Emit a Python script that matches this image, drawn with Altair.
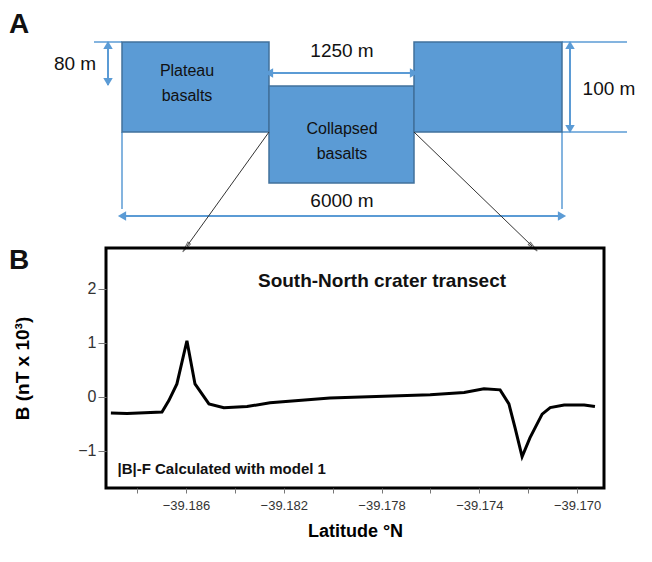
import pandas as pd
import altair as alt

# ---- panel B: magnetic anomaly transect
lat = [-39.18907, -39.18841, -39.18698, -39.18670, -39.18637, -39.18596, -39.18563,
       -39.18506, -39.18445, -39.18350, -39.18256, -39.18011, -39.17601, -39.17462,
       -39.17381, -39.17315, -39.17279, -39.17254, -39.17225, -39.17193, -39.17143,
       -39.17110, -39.17053, -39.16971, -39.16927]
bval = [-0.30, -0.31, -0.28, -0.07, 0.24, 1.04, 0.24, -0.13, -0.20, -0.18, -0.11,
        -0.02, 0.04, 0.08, 0.15, 0.13, -0.13, -0.57, -1.11, -0.76, -0.32, -0.20,
        -0.15, -0.15, -0.18]

# ---- panel A: block diagram (page-pixel units)
block_x = [125, 272, 417]
block_x2 = [272, 417, 565]
block_y = [41, 85, 41]
block_y2 = [131, 182, 131]
block_label_x = [190, 190, 345, 345]
block_label_y = [70, 95, 128, 153]
block_labels = ["Plateau", "basalts", "Collapsed", "basalts"]

dim_x = [97, 565, 565, 125, 565, 272]
dim_x2 = [125, 630, 630, 125, 565, 417]
dim_y = [41, 41, 131, 131, 131, 72]
dim_y2 = [41, 41, 131, 208, 208, 72]
dim_text = ["80 m", "1250 m", "100 m", "6000 m"]
dim_text_x = [78, 345, 612, 345]
dim_text_y = [63, 50, 88, 200]

arrow_x = [111, 573, 125, 272]
arrow_x2 = [111, 573, 565, 417]
arrow_y = [41, 41, 215, 72]
arrow_y2 = [84, 131, 215, 72]

heads_x = [111, 111, 573, 573, 125, 565, 272, 417]
heads_y = [44, 81, 44, 128, 215, 215, 72, 72]
heads_shape = ["triangle-up", "triangle-down", "triangle-up", "triangle-down",
               "triangle-left", "triangle-right", "triangle-left", "triangle-right"]

link_x = [272, 417]
link_y = [131, 131]
link_x2 = [190, 535]
link_y2 = [245, 245]
link_angle = [216, 134]

blue = "#5b9bd5"
edge = "#41719c"
xs = alt.Scale(domain=[109, 645])
ys = alt.Scale(domain=[8, 247], reverse=True)
noax = dict(axis=None, scale=xs)

blocks = alt.Chart(pd.DataFrame({"x": block_x, "x2": block_x2, "y": block_y, "y2": block_y2})).mark_rect(
    fill=blue, stroke=edge, strokeWidth=1.5
).encode(x=alt.X("x:Q", **noax), x2="x2", y=alt.Y("y:Q", axis=None, scale=ys), y2="y2")

lbl = pd.DataFrame({"x": block_label_x, "y": block_label_y, "t": block_labels})
block_txt = alt.Chart(lbl).mark_text(fontSize=16, font="Liberation Sans", color="#111").encode(
    x=alt.X("x:Q", **noax), y=alt.Y("y:Q", axis=None, scale=ys), text="t")

dims = alt.Chart(pd.DataFrame({"x": dim_x, "x2": dim_x2, "y": dim_y, "y2": dim_y2})).mark_rule(
    color=blue, strokeWidth=1.5
).encode(x=alt.X("x:Q", **noax), x2="x2", y=alt.Y("y:Q", axis=None, scale=ys), y2="y2")

arrows = alt.Chart(pd.DataFrame({"x": arrow_x, "x2": arrow_x2, "y": arrow_y, "y2": arrow_y2})).mark_rule(
    color=blue, strokeWidth=2
).encode(x=alt.X("x:Q", **noax), x2="x2", y=alt.Y("y:Q", axis=None, scale=ys), y2="y2")

heads = alt.Chart(pd.DataFrame({"x": heads_x, "y": heads_y, "s": heads_shape})).mark_point(
    filled=True, color=blue, size=90, opacity=1
).encode(x=alt.X("x:Q", **noax), y=alt.Y("y:Q", axis=None, scale=ys),
         shape=alt.Shape("s:N", scale=None, legend=None))

dim_lbl = alt.Chart(pd.DataFrame({"x": dim_text_x, "y": dim_text_y, "t": dim_text})).mark_text(
    fontSize=19, font="Liberation Sans", color="#111"
).encode(x=alt.X("x:Q", **noax), y=alt.Y("y:Q", axis=None, scale=ys), text="t")

links = alt.Chart(pd.DataFrame({"x": link_x, "x2": link_x2, "y": link_y, "y2": link_y2})).mark_rule(
    color="#333", strokeWidth=1
).encode(x=alt.X("x:Q", **noax), x2="x2", y=alt.Y("y:Q", axis=None, scale=ys), y2="y2")

link_heads = alt.Chart(pd.DataFrame({"x": link_x2, "y": link_y2, "a": link_angle})).mark_point(
    shape="wedge", color="#333", size=160, strokeWidth=1
).encode(x=alt.X("x:Q", **noax), y=alt.Y("y:Q", axis=None, scale=ys),
         angle=alt.Angle("a:Q", scale=None))

letters = alt.Chart(pd.DataFrame({"x": [22, 22], "y": [24, 260], "t": ["A", "B"]})).mark_text(
    fontSize=28, fontWeight="bold", font="Liberation Sans", color="#111"
).encode(x=alt.X("x:Q", **noax), y=alt.Y("y:Q", axis=None, scale=ys), text="t")

top = alt.layer(dims, blocks, arrows, heads, block_txt, dim_lbl, links, link_heads, letters).properties(
    width=536, height=239, view=alt.ViewBackground(stroke="transparent"))

# ---- panel B chart
src = pd.DataFrame({"lat": lat, "b": bval})
xb = alt.Scale(domain=[-39.18927, -39.16890], nice=False, zero=False)
yb = alt.Scale(domain=[-1.69, 2.76], nice=False, zero=False)
xticks = [round(-39.188 + 0.002 * i, 3) for i in range(10)]
yticks = [-1, 0, 1, 2]

line = alt.Chart(src).mark_line(color="black", strokeWidth=3).encode(
    x=alt.X("lat:Q", scale=xb, title="Latitude °N",
            axis=alt.Axis(values=xticks, format=".3f",
                          labelExpr="abs(round(datum.value*1000)) % 4 == 2 ? datum.label : ''",
                          grid=False, domain=False, tickColor="#777", labelFontSize=13,
                          labelColor="#333", titleFontSize=18, titleFontWeight="bold",
                          titlePadding=10, labelPadding=6)),
    y=alt.Y("b:Q", scale=yb, title="B (nT x 10³)",
            axis=alt.Axis(values=yticks, format="d", grid=False, domain=False,
                          tickColor="#777", tickSize=8, labelFontSize=16, labelColor="#333",
                          titleFontSize=19, titleFontWeight="bold", titlePadding=45)),
)

notes = pd.DataFrame({"x": [-39.17798, -39.18880], "y": [2.15, -1.33],
                      "t": ["South-North crater transect", "|B|-F Calculated with model 1"]})
title_txt = alt.Chart(notes.iloc[:1]).mark_text(
    fontWeight="bold", font="Liberation Sans", fontSize=19, align="center", color="#111"
).encode(x=alt.X("x:Q", scale=xb), y=alt.Y("y:Q", scale=yb), text="t")
model_txt = alt.Chart(notes.iloc[1:]).mark_text(
    fontWeight="bold", font="Liberation Sans", fontSize=15, align="left", color="#111"
).encode(x=alt.X("x:Q", scale=xb), y=alt.Y("y:Q", scale=yb), text="t")

bottom = alt.layer(line, title_txt, model_txt).properties(
    width=498, height=240, view=alt.ViewBackground(stroke="black", strokeWidth=3))

chart = alt.vconcat(top, bottom, spacing=0, bounds="flush").properties(padding=0).configure_view(
    stroke="black", strokeWidth=3).configure(font="Liberation Sans")

chart.save("out.html", embed_options={"renderer": "svg", "actions": False})
